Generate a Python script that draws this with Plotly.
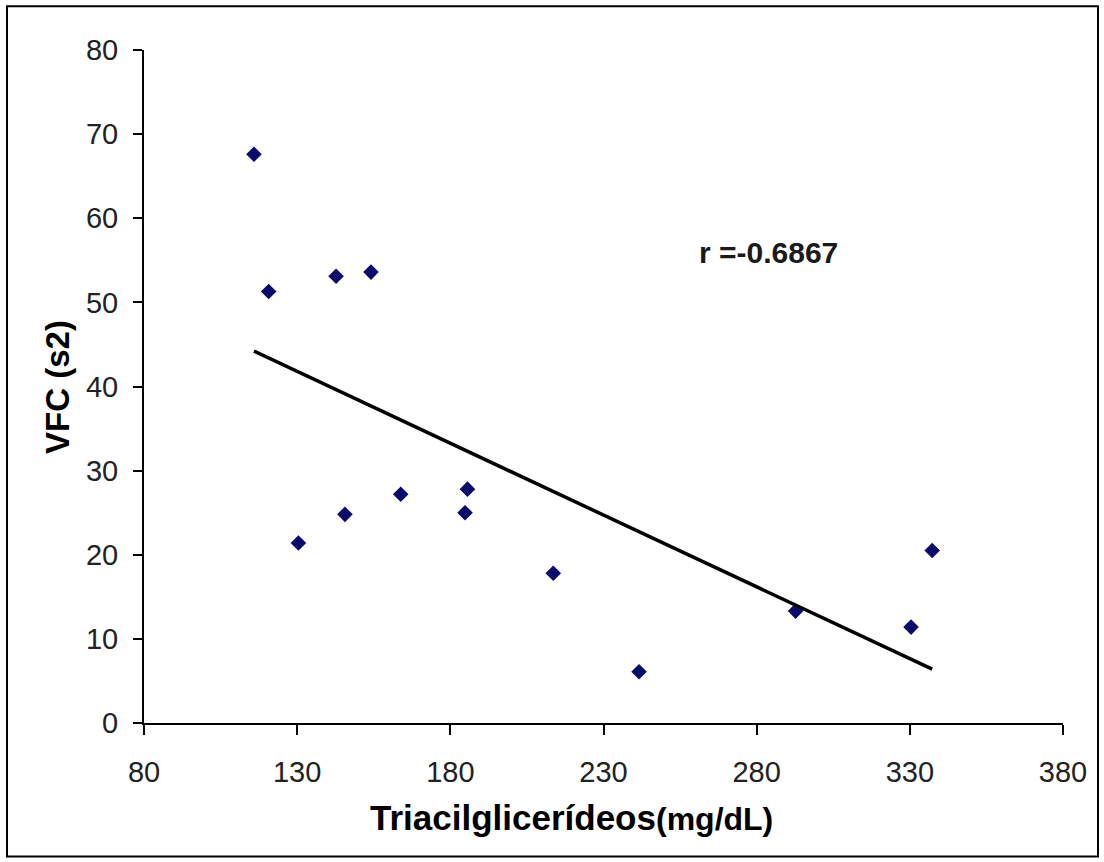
import plotly.graph_objects as go

# Data
triacilglicerideos = [115.9, 120.7, 142.7, 154.1, 130.4, 145.6, 163.8, 185.6, 184.8, 213.6, 241.6, 292.7, 330.4, 337.3]
vfc = [67.6, 51.3, 53.1, 53.6, 21.4, 24.8, 27.2, 27.8, 25.0, 17.8, 6.1, 13.3, 11.4, 20.5]

# Linear trendline end points
trend_x = [115.9, 337.3]
trend_y = [44.2, 6.4]

x_ticks = [80, 130, 180, 230, 280, 330, 380]
y_ticks = [0, 10, 20, 30, 40, 50, 60, 70, 80]

W, H = 1104, 862
L, R, T, B = 144, 1063, 49.8, 723.4

fig = go.Figure()
fig.add_trace(go.Scatter(
    x=triacilglicerideos, y=vfc, mode="markers",
    marker=dict(symbol="diamond", size=12, color="#0b0b6b",
                line=dict(width=0)),
    showlegend=False, hoverinfo="x+y"))
fig.add_trace(go.Scatter(
    x=trend_x, y=trend_y, mode="lines",
    line=dict(color="black", width=3.5),
    showlegend=False, hoverinfo="skip"))

tick_font = dict(family="Liberation Sans, Arial, sans-serif", size=29, color="#222222")
fig.update_layout(
    width=W, height=H, autosize=False,
    paper_bgcolor="white", plot_bgcolor="white",
    margin=dict(l=L, r=W - R, t=T, b=H - B, pad=0),
    xaxis=dict(range=[80, 380], tickvals=x_ticks, ticktext=[str(v) for v in x_ticks],
               showline=True, linecolor="black", linewidth=2, mirror=False,
               ticks="outside", ticklen=10, tickwidth=2, tickcolor="black",
               showgrid=False, zeroline=False, tickfont=tick_font,
               ticklabelstandoff=12),
    yaxis=dict(range=[0, 80], tickvals=y_ticks, ticktext=[str(v) for v in y_ticks],
               showline=True, linecolor="black", linewidth=2, mirror=False,
               ticks="outside", ticklen=9, tickwidth=2, tickcolor="black",
               showgrid=False, zeroline=False, tickfont=tick_font,
               ticklabelstandoff=9),
    font=dict(family="Liberation Sans, Arial, sans-serif", color="black"),
)

# Axis titles
fig.add_annotation(
    xref="paper", yref="paper",
    x=(571 - L) / (R - L), y=(B - 818) / (B - T),
    text="<b>Triacilglicerídeos<span style='font-size:32px'>(mg/dL)</span></b>",
    showarrow=False, font=dict(size=35, color="black"),
    xanchor="center", yanchor="middle")
fig.add_annotation(
    xref="paper", yref="paper",
    x=(58 - L) / (R - L), y=(B - 387) / (B - T),
    text="<b>VFC (s2)</b>", textangle=-90,
    showarrow=False, font=dict(size=33, color="black"),
    xanchor="center", yanchor="middle")

# Correlation label
fig.add_annotation(
    xref="paper", yref="paper",
    x=(768 - L) / (R - L), y=(B - 252) / (B - T),
    text="<b>r =-0.6867</b>",
    showarrow=False, font=dict(size=30, color="#1a1a1a"),
    xanchor="center", yanchor="middle")

# Outer frame
fig.add_shape(type="rect", xref="paper", yref="paper",
              x0=(7 - L) / (R - L), x1=(1098 - L) / (R - L),
              y0=(B - 857) / (B - T), y1=(B - 6) / (B - T),
              line=dict(color="black", width=2), fillcolor="rgba(0,0,0,0)",
              layer="below")

# remove the browser's default 8px body margin so the figure sits at (0, 0)
fig.write_html("out.html", config={"displayModeBar": False},
               post_script="document.body.style.margin='0px';")
